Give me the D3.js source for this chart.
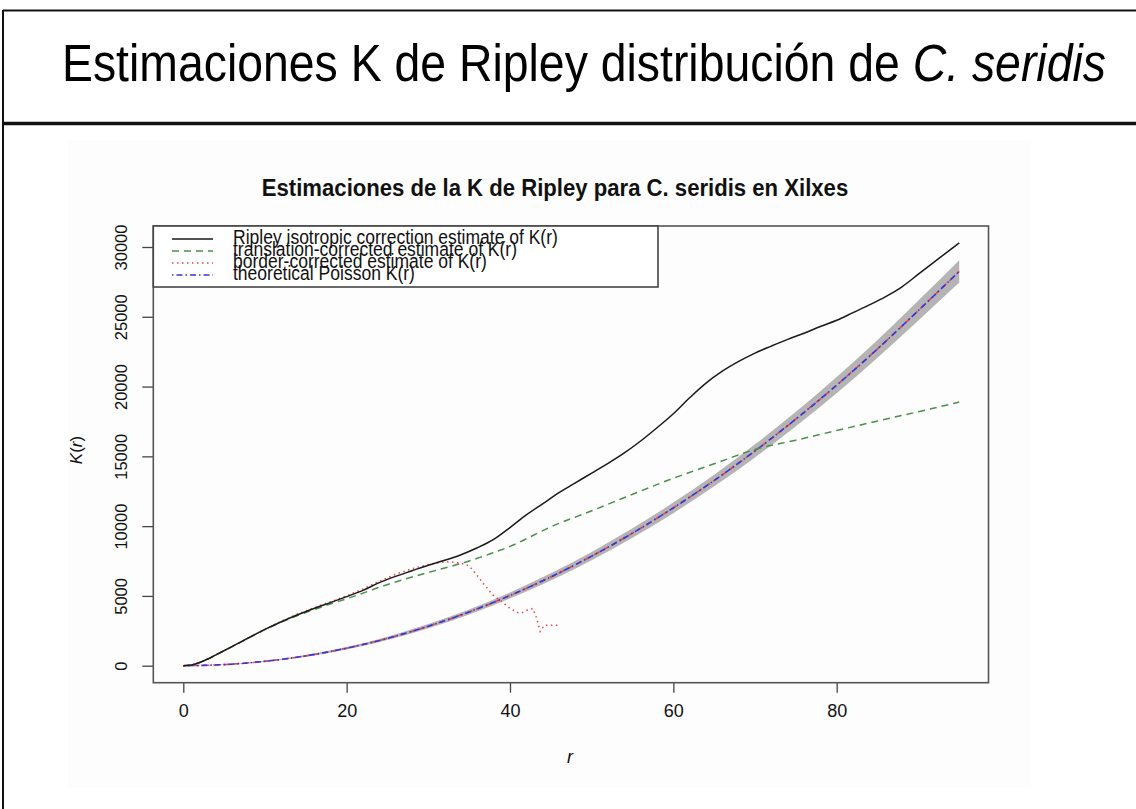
<!DOCTYPE html>
<html><head><meta charset="utf-8">
<script src="https://cdn.jsdelivr.net/npm/d3@7"></script>
<style>
html,body{margin:0;padding:0;background:#fff;}
svg text{font-family:"Liberation Sans",Arial,Helvetica,sans-serif;}
</style></head>
<body>
<svg id="c" width="1136" height="809"></svg>
<script>
// ---------- data ----------
const slideTitle = "Estimaciones K de Ripley distribución de ";
const slideTitleItalic = "C. seridis";
const plotTitle = "Estimaciones de la K de Ripley para C. seridis en Xilxes";
const xTicks = [0, 20, 40, 60, 80];
const yTicks = [0, 5000, 10000, 15000, 20000, 25000, 30000];
const legendLabels = [
  "Ripley isotropic correction estimate of K(r)",
  "translation-corrected estimate of K(r)",
  "border-corrected estimate of K(r)",
  "theoretical Poisson K(r)"
];

const isoR = [0,1,2,3,4,6,8,10,12,14,16,18,20,22,24,26,28,30,32,34,36,38,40,42,44,46,48,50,52,54,56,58,60,62,64,66,68,70,72,74,76,78,80,82,84,86,88,90,92,94,95];
const isoK = [0,60,230,480,780,1380,2000,2600,3150,3650,4100,4520,4950,5400,5950,6400,6800,7200,7550,7950,8450,9050,9900,10800,11600,12400,13100,13800,14500,15250,16100,17050,18050,19200,20250,21100,21800,22400,22900,23380,23820,24300,24750,25300,25850,26450,27150,28050,28950,29850,30300];

const transR = [0,1,2,3,4,6,8,10,12,14,16,18,20,22,24,26,28,30,32,34,36,38,40,45,50,55,60,65,70,75,80,85,90,95];
const transK = [0,60,230,480,780,1370,1990,2580,3120,3600,4020,4420,4800,5200,5620,6000,6350,6680,7000,7320,7700,8100,8550,9950,11100,12280,13430,14470,15490,16160,16850,17530,18200,18890];

const borderR = [0,1,2,3,4,6,8,10,12,14,16,18,20,22,24,26,28,30,32,33,34,35,36,37,38,39,40,41,41.5,42,42.8,43.3,43.7,44.2,45,45.8];
const borderK = [0,60,230,480,780,1380,2000,2620,3180,3700,4150,4580,5000,5500,6050,6550,6950,7250,7450,7420,7350,7150,6450,5700,5000,4600,4100,3800,3800,3950,4100,3350,2450,2900,2900,2900];

const theoR = [0,5,10,15,20,25,30,35,40,45,50,55,60,65,70,75,80,85,90,95];
const theoK = [0,80,315,705,1255,1960,2830,3850,5030,6360,7850,9500,11310,13270,15390,17670,20100,22700,25450,28250];
const bandLo = [0,60,275,645,1165,1840,2680,3670,4810,6100,7550,9160,10930,12850,14920,17150,19520,22060,24730,27450];
const bandHi = [0,100,355,765,1345,2080,2980,4030,5250,6620,8150,9840,11690,13690,15860,18190,20680,23340,26170,29050];

// ---------- drawing ----------
const svg = d3.select("#c");

svg.append("rect").attr("x",0).attr("y",0).attr("width",1136).attr("height",809).attr("fill","#fff");
svg.append("line").attr("x1",3).attr("x2",1136).attr("y1",10.5).attr("y2",10.5).attr("stroke","#111").attr("stroke-width",2);
svg.append("line").attr("x1",3).attr("x2",3).attr("y1",10).attr("y2",809).attr("stroke","#111").attr("stroke-width",2);
svg.append("line").attr("x1",3).attr("x2",1136).attr("y1",123.5).attr("y2",123.5).attr("stroke","#111").attr("stroke-width",3.5);

function fitWidth(sel, target){
  const w = sel.node().getComputedTextLength();
  const fs = parseFloat(sel.attr("font-size"));
  sel.attr("font-size", fs*target/w);
}

const st = svg.append("text").attr("x",0).attr("y",0).attr("font-size",46).attr("fill","#000")
  .attr("transform","translate(62,81) scale(1,1.1)");
st.append("tspan").text(slideTitle);
st.append("tspan").attr("font-style","italic").text(slideTitleItalic);
fitWidth(st, 1044);

// embedded plot image background (very faint)
svg.append("rect").attr("x",68).attr("y",140).attr("width",963).attr("height",648).attr("fill","#fdfdfd");

const x = d3.scaleLinear().domain([0,80]).range([183.3, 836.7]);
const y = d3.scaleLinear().domain([0,30000]).range([665.7, 247]);
const box = {l:153.3, t:226, r:988.5, b:682.7};

// plot title
const pt = svg.append("text").attr("x",0).attr("y",0).attr("text-anchor","middle")
  .attr("transform","translate(555,196) scale(1,1.12)")
  .attr("font-weight","bold").attr("font-size",16).attr("fill","#111").text(plotTitle);
fitWidth(pt, 586);

// envelope band
const area = d3.area().x((d,i)=>x(theoR[i])).y0((d,i)=>y(bandLo[i])).y1((d,i)=>y(bandHi[i])).curve(d3.curveMonotoneX);
svg.append("path").datum(theoR).attr("d",area).attr("fill","#b4b4b4");

function lineOf(rs, ks, curve){
  return d3.line().x((d,i)=>x(rs[i])).y((d,i)=>y(ks[i])).curve(curve||d3.curveMonotoneX)(rs);
}
svg.append("path").attr("d",lineOf(theoR,theoK)).attr("fill","none").attr("stroke","#e0474b").attr("stroke-width",1.6).attr("stroke-dasharray","6,4");
svg.append("path").attr("d",lineOf(theoR,theoK)).attr("fill","none").attr("stroke","#3535e0").attr("stroke-width",1.6).attr("stroke-dasharray","1.5,3,6,3");
svg.append("path").attr("d",lineOf(transR,transK)).attr("fill","none").attr("stroke","#4a8f4a").attr("stroke-width",1.5).attr("stroke-dasharray","7,5");
svg.append("path").attr("d",lineOf(borderR,borderK,d3.curveLinear)).attr("fill","none").attr("stroke","#e8474b").attr("stroke-width",1.5).attr("stroke-dasharray","1.5,3.5");
svg.append("path").attr("d",lineOf(isoR,isoK)).attr("fill","none").attr("stroke","#1a1a1a").attr("stroke-width",1.5);

// axes
const xa = svg.append("g").attr("transform",`translate(0,${box.b})`)
  .call(d3.axisBottom(x).tickValues(xTicks).tickSize(10).tickPadding(12).tickFormat(d3.format("d")));
xa.select(".domain").remove();
xa.selectAll("line").attr("stroke","#444").attr("stroke-width",1.3);
xa.selectAll("text").attr("font-size",18).attr("fill","#111").attr("font-family","Liberation Sans, Arial, sans-serif");

const ya = svg.append("g").attr("transform",`translate(${box.l},0)`)
  .call(d3.axisLeft(y).tickValues(yTicks).tickSize(11).tickFormat(d3.format("d")));
ya.select(".domain").remove();
ya.selectAll("line").attr("stroke","#444").attr("stroke-width",1.3);
ya.selectAll("text").attr("transform","rotate(-90)").attr("x",0).attr("y",-32).attr("dy","0.35em")
  .attr("text-anchor","middle").attr("font-size",16.5).attr("fill","#111").attr("font-family","Liberation Sans, Arial, sans-serif");

svg.append("rect").attr("x",box.l).attr("y",box.t).attr("width",box.r-box.l).attr("height",box.b-box.t)
  .attr("fill","none").attr("stroke","#555").attr("stroke-width",1.6);

// axis titles
svg.append("text").attr("x",570).attr("y",763).attr("text-anchor","middle").attr("font-style","italic").attr("font-size",18).attr("fill","#111").text("r");
const kl = svg.append("text").attr("transform","translate(82,450) rotate(-90)").attr("text-anchor","middle").attr("font-size",17).attr("fill","#111");
kl.append("tspan").attr("font-style","italic").text("K");
kl.append("tspan").text("(");
kl.append("tspan").attr("font-style","italic").text("r");
kl.append("tspan").text(")");

// legend
svg.append("rect").attr("x",box.l).attr("y",box.t).attr("width",658-box.l).attr("height",287-box.t)
  .attr("fill","#fff").attr("stroke","#444").attr("stroke-width",1.6);
const legStyles = [
  {c:"#1a1a1a", d:null},
  {c:"#4a8f4a", d:"7,5"},
  {c:"#e8474b", d:"1.5,3.5"},
  {c:"#3535e0", d:"1.5,3,6,3"}
];
const legBase = [244, 256, 268, 280];
let legFs = 16;
legendLabels.forEach((lab,i)=>{
  const ln = svg.append("line").attr("x1",172).attr("x2",213).attr("y1",legBase[i]-5).attr("y2",legBase[i]-5)
    .attr("stroke",legStyles[i].c).attr("stroke-width",1.5);
  if(legStyles[i].d) ln.attr("stroke-dasharray",legStyles[i].d);
  const t = svg.append("text").attr("x",0).attr("y",0)
    .attr("transform",`translate(233,${legBase[i]}) scale(1,1.15)`)
    .attr("font-size",legFs).attr("fill","#111").text(lab);
  if(i===0){ fitWidth(t, 325); legFs = parseFloat(t.attr("font-size")); }
});
</script>
</body></html>
